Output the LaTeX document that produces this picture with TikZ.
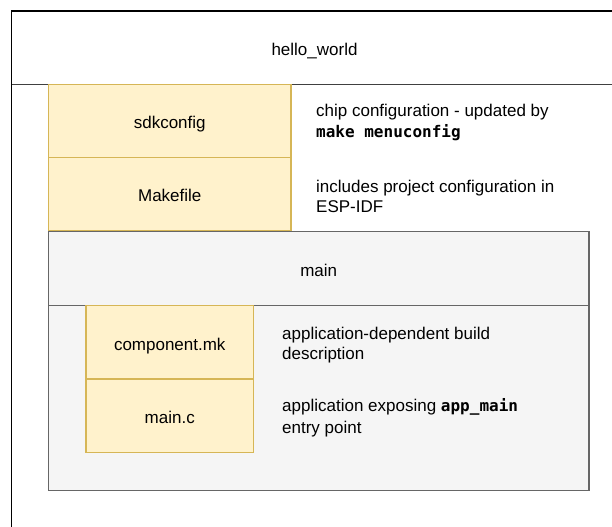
\documentclass[tikz,border=0pt]{standalone}
\usepackage{fontspec}
\setmainfont{Liberation Sans}
\newfontfamily\codefont{DejaVu Sans Mono}
\definecolor{noteFill}{HTML}{FFF2CC}
\definecolor{noteLine}{HTML}{D6B656}
\definecolor{groupFill}{HTML}{F5F5F5}
\definecolor{groupLine}{HTML}{666666}
\newcommand{\code}[1]{{\codefont\bfseries\fontsize{16bp}{20bp}\selectfont #1}}
\tikzset{
  filebox/.style={draw=noteLine, fill=noteFill, line width=1.3bp, rectangle,
    inner sep=0pt, minimum width=242.5bp, minimum height=73.5bp},
  subfilebox/.style={filebox, minimum width=167.5bp},
  note/.style={anchor=west, align=left, inner sep=0pt,
    font=\fontsize{17bp}{20.5bp}\selectfont},
  lbl/.style={anchor=base, inner sep=0pt, font=\fontsize{17bp}{20bp}\selectfont}
}
\begin{document}
\begin{tikzpicture}[x=1bp, y=-1bp]
\useasboundingbox (0,0) rectangle (612,527);
\clip (0,0) rectangle (612,527);

% project folder: header band and open body
\draw[line width=1.4bp, fill=white] (11.5,11) rectangle (617,540);
\draw[line width=1.4bp, draw=black!75] (11.5,84.5) -- (617,84.5);
\node[lbl] (proj) at (314.5,55.8) {hello\_world};

% top-level files
\node[filebox] (sdk) at (169.75,121) {};
\node[lbl] at (169.75,128.9) {sdkconfig};
\node[filebox] (mk) at (169.75,194.25) {};
\node[lbl] at (169.75,201.5) {Makefile};

\node[note] (sdknote) at (316,122.5) {chip configuration - updated by\\\code{make menuconfig}};
\node[note] (mknote) at (316,196.5) {includes project configuration in\\ESP-IDF};

% main component folder
\draw[draw=groupLine, fill=groupFill, line width=1.4bp] (48.5,231.5) rectangle (589,490.5);
\draw[draw=groupLine, line width=1.4bp] (48.5,305.5) -- (589,305.5);
\node[lbl] (main) at (318.75,276) {main};

\node[subfilebox] (comp) at (169.75,342.25) {};
\node[lbl] at (169.75,350.5) {component.mk};
\node[subfilebox] (mainc) at (169.75,416) {};
\node[lbl] at (169.75,423.5) {main.c};

\node[note] (compnote) at (282,345) {application-dependent build\\description};
\node[note, font=\fontsize{17bp}{22.5bp}\selectfont] (mainnote) at (282,418) {application exposing \code{app\_main}\\entry point};
\end{tikzpicture}
\end{document}
